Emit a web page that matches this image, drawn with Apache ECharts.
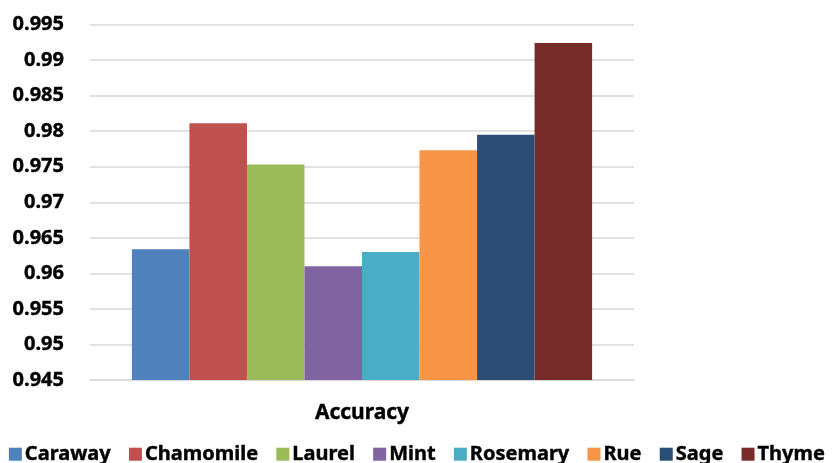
<!DOCTYPE html>
<html>
<head>
<meta charset="utf-8">
<script src="https://cdn.jsdelivr.net/npm/echarts@6/dist/echarts.min.js"></script>
<style>
  html, body { margin: 0; padding: 0; background: #fff; }
  #chart { width: 834px; height: 463px; }
</style>
</head>
<body>
<div id="chart"></div>
<script>
// Accuracy per herb model
const categories = ['Accuracy'];
const herbs = ['Caraway', 'Chamomile', 'Laurel', 'Mint', 'Rosemary', 'Rue', 'Sage', 'Thyme'];
const accuracy = [0.9634, 0.9811, 0.9753, 0.9610, 0.9630, 0.9773, 0.9795, 0.9924];
const colors = ['#4f81bd', '#c0504d', '#9bbb59', '#8064a2', '#4bacc6', '#f79646', '#2c4d75', '#772c2a'];
const yMin = 0.945, yMax = 0.995, yStep = 0.005;

const FONT = '"Noto Sans", sans-serif';
// slightly heavier strokes for the bold labels
const heavy = { fontFamily: FONT, fontWeight: 'bold', color: '#000', textBorderColor: '#000', textBorderWidth: 0.4 };

const chart = echarts.init(document.getElementById('chart'), null, { renderer: 'canvas' });

const series = herbs.map((name, i) => ({
  name: name,
  type: 'bar',
  data: [accuracy[i]],
  barGap: '0%',
  barCategoryGap: '15.4%',
  itemStyle: { color: colors[i] }
}));

chart.setOption({
  animation: false,
  color: colors,
  grid: { left: 90, right: 200, top: 24.5, bottom: 83, containLabel: false },
  legend: {
    data: herbs,
    top: 439,
    left: 'center',
    itemWidth: 13,
    itemHeight: 13,
    itemGap: 18,
    icon: 'rect',
    textStyle: Object.assign({ fontSize: 20, padding: [0, 0, 0, -2] }, heavy)
  },
  xAxis: {
    type: 'category',
    data: categories,
    axisLine: { show: true, lineStyle: { color: '#d9d9d9', width: 1.5 } },
    axisTick: { show: false },
    axisLabel: Object.assign({ fontSize: 21, margin: 23 }, heavy)
  },
  yAxis: {
    type: 'value',
    min: yMin,
    max: yMax,
    interval: yStep,
    axisLine: { show: false },
    axisTick: { show: false },
    splitLine: { lineStyle: { color: '#d9d9d9', width: 1.5 } },
    axisLabel: Object.assign({
      fontSize: 20, margin: 26,
      formatter: v => String(parseFloat(v.toFixed(3)))
    }, heavy)
  },
  series: series
});
</script>
</body>
</html>
